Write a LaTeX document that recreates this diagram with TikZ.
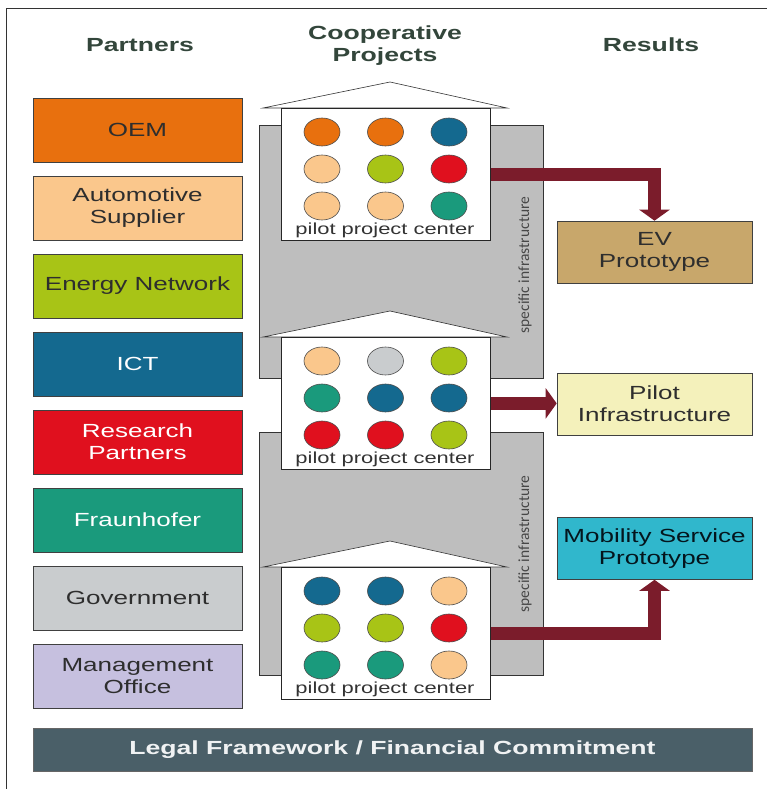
\documentclass[tikz,border=0pt]{standalone}
\usepackage{fontspec}
\setmainfont{Liberation Sans}[FakeStretch=1.37,BoldFeatures={FakeStretch=1.40}]
\newfontfamily\calfont{Carlito}
\usetikzlibrary{arrows.meta}
\definecolor{cOr}{HTML}{E8700E}
\definecolor{cPeach}{HTML}{FAC78C}
\definecolor{cGreen}{HTML}{A8C416}
\definecolor{cBlue}{HTML}{14698F}
\definecolor{cRed}{HTML}{E0101E}
\definecolor{cTeal}{HTML}{1A9A7C}
\definecolor{cGray}{HTML}{C9CCCE}
\definecolor{cLav}{HTML}{C6C0DF}
\definecolor{cEV}{HTML}{C8A76B}
\definecolor{cPilot}{HTML}{F4F1BB}
\definecolor{cMob}{HTML}{30B7CC}
\definecolor{cBar}{HTML}{4A5F68}
\definecolor{panelgray}{HTML}{BEBEBE}
\definecolor{arrowred}{HTML}{7B1C2B}
\definecolor{hdr}{HTML}{33463B}
\definecolor{darktxt}{HTML}{2E2E2E}
\tikzset{
  partner/.style={draw=black!75, line width=0.6pt, minimum width=209pt, minimum height=64pt,
    align=center, inner sep=0pt, font=\fontsize{19}{22}\selectfont},
  header/.style={font=\bfseries\fontsize{19}{22}\selectfont, text=hdr, align=center},
  result/.style={draw=black!75, line width=0.6pt, minimum width=195pt, minimum height=62pt,
    align=center, inner sep=0pt, font=\fontsize{19}{22}\selectfont, text=darktxt},
  panel/.style={draw=black!80, fill=panelgray, line width=0.6pt},
  housebox/.style={draw=black!85, fill=white, minimum width=209pt, minimum height=132pt,
    inner sep=0pt, line width=0.8pt},
  roof/.style={draw=black!80, fill=white, line width=0.6pt},
  dotshape/.style={draw=black!70, line width=0.6pt},
  ppc/.style={font=\fontsize{16}{16}\selectfont, text=black!80},
  infra/.style={rotate=90, font=\calfont\fontsize{15.5}{15.5}\selectfont, text=black!72},
  link/.style={draw=arrowred, line width=13pt, line join=miter,
    -{Triangle[width=30pt,length=11pt]}}
}
\newcommand\mkhouse[3]{%
  \draw[roof] (263,#2) -- (390,#2-26) -- (507,#2) -- cycle;
  \node[housebox, anchor=north west] (#1) at (281,#2) {};
  \foreach \col [count=\k from 0] in {#3} {
    \pgfmathtruncatemacro\rr{int(\k/3)}
    \pgfmathtruncatemacro\cc{mod(\k,3)}
    \filldraw[dotshape, fill=\col] ({322+63.5*\cc},{#2+24+37*\rr}) ellipse [x radius=18, y radius=14];
  }
  \node[ppc] (#1t) at (385,#2+122) {pilot project center};
}
\begin{document}
\begin{tikzpicture}[x=1pt,y=-1pt]
\useasboundingbox (0,0) rectangle (767,789);
\clip (0,0) rectangle (767,789);
\draw[line width=0.8pt, black!80] (6,8) rectangle (790,810);

% headers
\node[header] (hp) at (140,45) {Partners};
\node[header] (hc) at (385,46) {Cooperative\\Projects};
\node[header] (hr) at (651,45) {Results};

% partners
\node[partner, fill=cOr, text=darktxt] (p1) at (137.5,130) {OEM};
\node[partner, fill=cPeach, text=darktxt] (p2) at (137.5,208) {Automotive\\Supplier};
\node[partner, fill=cGreen, text=darktxt] (p3) at (137.5,286) {Energy Network};
\node[partner, fill=cBlue, text=white] (p4) at (137.5,364) {ICT};
\node[partner, fill=cRed, text=white] (p5) at (137.5,442) {Research\\Partners};
\node[partner, fill=cTeal, text=white] (p6) at (137.5,520) {Fraunhofer};
\node[partner, fill=cGray, text=darktxt] (p7) at (137.5,598) {Government};
\node[partner, fill=cLav, text=darktxt] (p8) at (137.5,676) {Management\\Office};

% infrastructure panels
\draw[panel] (259,125) rectangle (543,378);
\draw[panel] (259,432) rectangle (543,675);
\node[infra] (s1) at (525,265) {specific infrastructure};
\node[infra] (s2) at (525,544) {specific infrastructure};

% houses
\mkhouse{h1}{108}{cOr,cOr,cBlue,cPeach,cGreen,cRed,cPeach,cPeach,cTeal}
\mkhouse{h2}{337}{cPeach,cGray,cGreen,cTeal,cBlue,cBlue,cRed,cRed,cGreen}
\mkhouse{h3}{567}{cBlue,cBlue,cPeach,cGreen,cGreen,cRed,cTeal,cTeal,cPeach}

% results
\node[result, fill=cEV] (ev) at (654.5,252) {EV\\Prototype};
\node[result, fill=cPilot] (pi) at (654.5,404) {Pilot\\Infrastructure};
\node[result, fill=cMob, text=black!80!cBlue] (mo) at (654.5,548.5) {Mobility Service\\Prototype};

% arrows
\draw[link] (h1.east) -| (ev.north);
\draw[link] (h2.east) -- (h2.east -| pi.west);
\draw[link] (h3.east) -| (mo.south);

% bottom bar
\node[fill=cBar, draw=black!60, minimum width=719pt, minimum height=43pt, inner sep=0pt,
  text=white!92!cBar, font=\bfseries\fontsize{19}{22}\selectfont] (lf) at (392.5,750)
  {Legal Framework / Financial Commitment};
\end{tikzpicture}
\end{document}
